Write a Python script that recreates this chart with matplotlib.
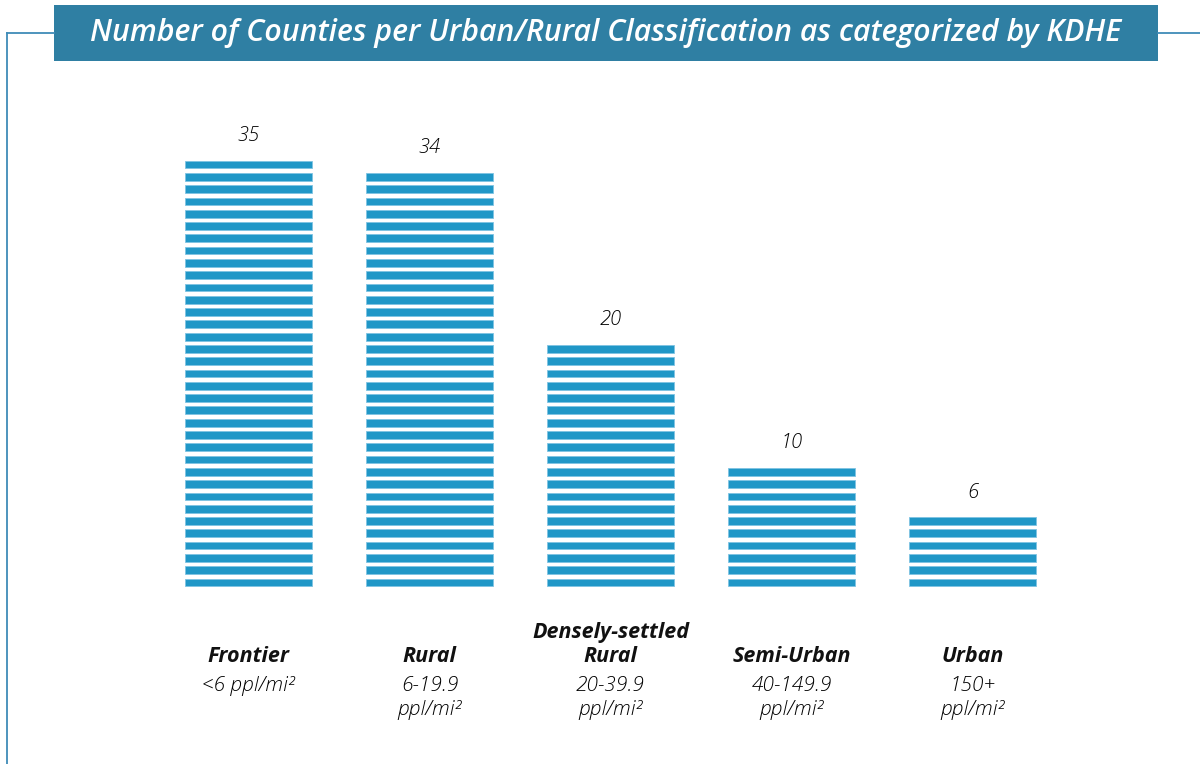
import matplotlib
matplotlib.use("Agg")
import matplotlib.pyplot as plt
from matplotlib.patches import Rectangle
from matplotlib.lines import Line2D

# Counties per KDHE urban/rural classification
categories = ["Frontier", "Rural", "Densely-settled\nRural", "Semi-Urban", "Urban"]
densities = ["<6 ppl/mi²", "6-19.9\nppl/mi²", "20-39.9\nppl/mi²", "40-149.9\nppl/mi²", "150+\nppl/mi²"]
counties = [35, 34, 20, 10, 6]

title = "Number of Counties per Urban/Rural Classification as categorized by KDHE"

W, H = 1200, 764
fig = plt.figure(figsize=(W / 100, H / 100), dpi=100)
fig.patch.set_facecolor("white")

BAR = "#2097c7"
BAR_EDGE = "#7fc3e3"
FRAME = "#3f8bb7"
BANNER = "#2f7fa3"

# Axes spanning the figure; one stripe per county
unit = 12.29            # pixels per county
pitch = 181.0           # pixels between bar centres
x0_px, y0_px = 248.5, H - 586.3
ax = fig.add_axes([0, 0, 1, 1])
ax.set_xlim(-x0_px / pitch, (W - x0_px) / pitch)
ax.set_ylim(-y0_px / unit, (H - y0_px) / unit)
ax.axis("off")

stripe = 0.63
for i, n in enumerate(counties):
    for k in range(n):
        ax.bar(i, stripe, bottom=k, width=0.70, color=BAR,
               edgecolor=BAR_EDGE, linewidth=0.6)
    ax.text(i, n - 1 + stripe + 2.0, str(n), ha="center", va="center",
            fontsize=14.5, style="italic", fontweight="light",
            family="Open Sans", color="#000000")

# Category names (bold) with density ranges beneath
name_y = -(662 - 586.3) / unit
dens_y = -(676 - 586.3) / unit
for i, (name, dens) in enumerate(zip(categories, densities)):
    ax.text(i, name_y, name, ha="center", va="baseline", fontsize=15.5,
            style="italic", fontweight="bold", family="Open Sans",
            color="#111111", linespacing=1.2)
    ax.text(i, dens_y, dens, ha="center", va="top", fontsize=15,
            style="italic", fontweight="light", family="Open Sans",
            color="#000000", linespacing=1.24)

# Title banner and frame lines
fig.add_artist(Rectangle((54 / W, 1 - 60.7 / H), (1157.7 - 54) / W, (60.7 - 5) / H,
                         transform=fig.transFigure, facecolor=BANNER,
                         edgecolor="none"))
fig.text((54 + 1157.7) / 2 / W, 1 - 33 / H, title, ha="center", va="center",
         fontsize=21.8, style="italic", fontweight="semibold",
         family="Open Sans", color="white")
ly = 1 - 32.5 / H
fig.add_artist(Line2D([6.5 / W, 6.5 / W], [0, ly], transform=fig.transFigure,
                      color=FRAME, linewidth=1.3))
fig.add_artist(Line2D([6.5 / W, 54 / W], [ly, ly], transform=fig.transFigure,
                      color=FRAME, linewidth=1.3))
fig.add_artist(Line2D([1157.7 / W, 1.0], [ly, ly], transform=fig.transFigure,
                      color=FRAME, linewidth=1.3))

fig.savefig("out.png", dpi=100)
